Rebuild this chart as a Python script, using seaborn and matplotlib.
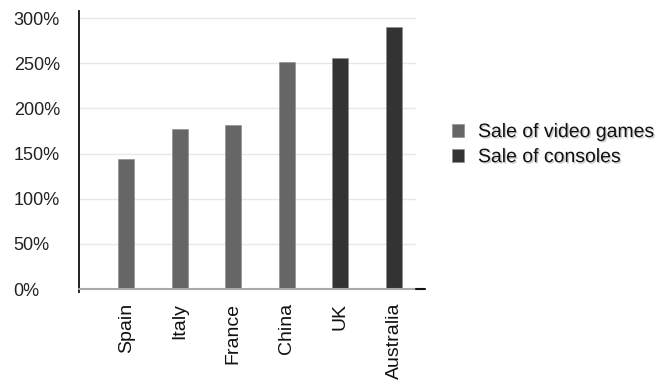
import matplotlib
matplotlib.use("Agg")
import matplotlib.pyplot as plt
import seaborn as sns
import pandas as pd
from matplotlib.patches import Patch
import matplotlib.patheffects as pe

countries = ["Spain", "Italy", "France", "China", "UK", "Australia"]
values = [144, 177, 182, 252, 256, 290]
series = ["Sale of video games", "Sale of video games", "Sale of video games",
          "Sale of video games", "Sale of consoles", "Sale of consoles"]
series_names = ["Sale of video games", "Sale of consoles"]
colors = ["#666666", "#333333"]
yticks = [0, 50, 100, 150, 200, 250, 300]
ytick_labels = ["0%", "50%", "100%", "150%", "200%", "250%", "300%"]

df = pd.DataFrame({"country": countries, "value": values, "series": series})

sns.set_theme(style="white")
plt.rcParams["font.family"] = ["Liberation Sans", "DejaVu Sans"]

fig = plt.figure(figsize=(6.69, 3.85), dpi=100)
ax = fig.add_axes([79/669, 96/385, (416-79)/669, (385-11-96)/385])

sns.barplot(data=df, x="country", y="value", hue="series",
            hue_order=series_names, palette=colors, dodge=False,
            width=0.3, ax=ax, legend=False, saturation=1,
            edgecolor="#888888", linewidth=0.4)

ax.set_xlim(-0.88, 5.41)
ax.set_ylim(0, 308)
ax.set_yticks(yticks)
ax.set_yticklabels(ytick_labels, ha="left")
ax.tick_params(axis="y", length=0, pad=47, labelsize=13, colors="#222222")
ax.tick_params(axis="x", length=0, pad=10, labelsize=14, colors="#111111")
for lbl in ax.get_xticklabels():
    lbl.set_rotation(90)
ax.set_xlabel("")
ax.set_ylabel("")
ax.grid(axis="y", color="#e8e8e8", linewidth=1)
ax.set_axisbelow(True)

for s in ["top", "right", "bottom"]:
    ax.spines[s].set_visible(False)
ax.spines["left"].set_color("#111111")
ax.spines["left"].set_linewidth(1.3)
ax.spines["left"].set_bounds(-3, 308)

ax.plot([0, 1.0], [0, 0], transform=ax.transAxes, color="#aaaaaa",
        linewidth=1.5, clip_on=False, zorder=5)
ax.plot([1.0, 1.027], [0, 0], transform=ax.transAxes, color="#111111",
        linewidth=1.5, clip_on=False, zorder=5)

handles = [Patch(facecolor=c, edgecolor="#888888", linewidth=0.4) for c in colors]
leg = fig.legend(handles, series_names, loc="upper left",
                 bbox_to_anchor=(442/669, 1 - 114/385), frameon=False,
                 fontsize=14, handlelength=0.65, handleheight=0.65,
                 handletextpad=0.7, labelspacing=0.4, borderpad=0)
for t in leg.get_texts():
    t.set_color("#111111")
    t.set_path_effects([pe.withSimplePatchShadow(offset=(1, -1), shadow_rgbFace="#999999", alpha=0.5)])

fig.savefig("out.png", dpi=100)
